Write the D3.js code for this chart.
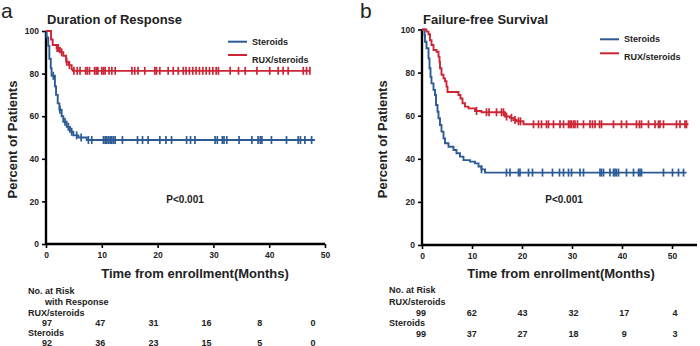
<!DOCTYPE html>
<html>
<head>
<meta charset="utf-8">
<script src="https://cdn.jsdelivr.net/npm/d3@7"></script>
<style>
body { margin: 0; background: #fff; }
svg text { font-family: "Liberation Sans", Arial, sans-serif; font-weight: bold; fill: #222; }
</style>
</head>
<body>
<div class="interactive-wrapper"></div>
<script>
//=====================DATA=====================

// panel a : duration of response
const aRuxTime = [0, 0.9, 1.2, 1.9, 2.5, 3.1, 3.6, 4.0, 4.6, 4.8]
const aRuxSurv = [100, 96, 93.4, 92, 90, 88.4, 85.6, 84, 82, 81.3]
const aRuxCens = [2.0, 2.2, 2.8, 3.7, 4.2, 5.0, 5.6, 6.1, 7.1, 7.4, 7.8, 8.7, 9.0, 9.3, 10.0, 10.3, 10.6, 11.3, 11.8, 12.4,
	15.4, 15.9, 16.5, 17.7, 19.5, 19.8, 20.4, 21.9, 22.8, 23.7, 24.6, 25.1, 25.7, 26.3, 26.9, 27.5, 28.1, 28.7, 29.3, 29.9,
	30.5, 30.9, 33.0, 34.5, 35.7, 37.8, 40.1, 41.6, 42.5, 43.4, 46.1, 46.7, 47.3]
const aRuxEnd = 47.3

const aSteTime = [0, 0.1, 0.4, 0.6, 0.85, 1.0, 1.6, 1.8, 2.1, 2.4, 2.8, 3.1, 3.7, 4.3, 4.9, 5.8, 7.3]
const aSteSurv = [100, 97, 93, 87, 82.5, 79, 74, 70, 66, 63, 60, 57.4, 55, 52.7, 51, 50, 48.8]
const aSteCens = [1.3, 2.5, 3.4, 4.0, 4.6, 5.5, 6.3, 7.6, 8.2, 10.3, 10.6, 10.9, 11.2, 11.5, 11.8, 12.1, 12.4, 13.7,
	16.4, 17.3, 18.3, 20.4, 21.5, 22.5, 25.2, 25.9, 26.7, 30.3, 30.7, 31.6, 31.9, 32.4, 34.6, 36.9, 38.0, 38.4, 38.7,
	40.4, 43.1, 45.2, 45.6, 46.4, 47.6]
const aSteEnd = 48.2

const aRiskTimes = [0, 10, 20, 30, 40, 50]
const aRiskRux = [97, 47, 31, 16, 8, 0]
const aRiskSte = [92, 36, 23, 15, 5, 0]

// panel b : failure-free survival
const bRuxTime = [0, 0.9, 1.3, 1.6, 1.9, 2.3, 2.9, 3.3, 3.5, 3.6, 3.9, 4.3, 4.6, 4.9, 5.1, 7.3, 7.7, 8.1, 8.6, 9.3, 10.6, 11.9, 16.6, 17.6, 18.3, 18.9, 20.3]
const bRuxSurv = [100, 99, 97.8, 95, 92.8, 90.5, 89.7, 87.4, 85, 82, 79, 77.3, 76, 73.5, 71, 69.6, 68, 65.8, 64.2, 63.4, 62.2, 61.6, 59.6, 59, 58, 57.4, 56]
const bRuxCens = [10.9, 12.9, 13.4, 14.9, 15.9, 16.3, 16.9, 17.9, 18.6, 19.3, 19.7, 22.3, 23.3, 23.9, 24.9, 25.3, 26.3,
	27.6, 28.3, 29.3, 29.6, 29.9, 30.3, 30.6, 31.1, 32.3, 33.6, 34.1, 34.6, 35.5, 35.9, 38.3, 39.9, 40.9, 42.9, 43.5,
	43.9, 45.3, 46.6, 47.3, 47.6, 48.3, 50.9, 51.6, 52.6, 52.9]
const bRuxEnd = 53.3

const bSteTime = [0, 0.5, 0.6, 0.9, 1.3, 1.5, 1.7, 1.9, 2.3, 2.6, 2.8, 3.1, 3.3, 3.6, 3.9, 4.3, 4.6, 5.3, 6.3, 6.9, 7.6, 8.3, 9.6, 10.6, 11.3, 11.9, 12.6]
const bSteSurv = [100, 97.4, 94.3, 91.3, 86.6, 82, 78, 75, 72, 69.6, 65, 61.8, 58.8, 55.7, 52.6, 49.5, 47.2, 45.6, 44.1, 42.6, 41, 39.4, 38.7, 37.9, 36.4, 35.1, 33.6]
const bSteCens = [11.9, 16.9, 17.6, 19.3, 19.6, 21.3, 22.1, 24.1, 26.1, 27.5, 28.3, 29.3, 29.9, 31.6, 32.3, 35.6, 35.9,
	36.3, 37.6, 38.3, 38.6, 38.9, 39.3, 40.9, 42.3, 43.3, 43.6, 43.9, 48.3, 50.1, 51.3, 52.3]
const bSteEnd = 52.9

const bRiskTimes = [0, 10, 20, 30, 40, 50]
const bRiskRux = [99, 62, 43, 32, 17, 4]
const bRiskSte = [99, 37, 27, 18, 9, 3]

const xTicks = [0, 10, 20, 30, 40, 50]
const yTicks = [0, 20, 40, 60, 80, 100]

//=====================STRUCTURE=====================

const width = 700
const height = 346
const blue = '#2c5a95'
const red = '#cc2636'

const svg = d3.select('.interactive-wrapper')
.append('svg')
.attr('width', width)
.attr('height', height)

const makeCurve = (time, surv, cens, end) => {
	let pts = time.map((t, i) => [t, surv[i]])
	pts.push([end, surv[surv.length - 1]])
	let survAt = t => {
		let s = surv[0]
		time.forEach((tt, i) => { if (tt <= t) s = surv[i] })
		return s
	}
	return {pts: pts, cens: cens.map(c => [c, survAt(c)])}
}

const drawPanel = (p) => {

	const x = d3.scaleLinear().domain(p.xDomain).range(p.xRange)
	const y = d3.scaleLinear().domain([0, 100]).range(p.yRange)
	const g = svg.append('g')

	// y axis
	const yAxis = g.append('g')
	.attr('transform', `translate(${p.xRange[0]},0)`)
	.call(d3.axisLeft(y).tickValues(yTicks).tickSize(4).tickPadding(3))
	yAxis.select('.domain').attr('stroke-width', 2.4).attr('d', `M0,${y(0)}V${y(100)}`)
	yAxis.selectAll('.tick line').attr('stroke-width', 1.6)
	yAxis.selectAll('.tick text').attr('font-size', 8.5).attr('font-family', 'Liberation Sans').attr('font-weight', 'bold')

	// x axis
	const xAxis = g.append('g')
	.attr('transform', `translate(0,${p.yRange[0]})`)
	.call(d3.axisBottom(x).tickValues(xTicks).tickSize(4).tickPadding(4))
	xAxis.select('.domain').attr('stroke-width', 2.4).attr('d', `M${p.xRange[0]},0H${p.xRange[1]}`)
	xAxis.selectAll('.tick line').attr('stroke-width', 1.6)
	xAxis.selectAll('.tick text').attr('font-size', 8.5).attr('font-family', 'Liberation Sans').attr('font-weight', 'bold')

	const line = d3.line()
	.x(d => x(d[0]))
	.y(d => y(d[1]))
	.curve(d3.curveStepAfter)

	p.curves.forEach(c => {
		g.append('path')
		.attr('d', line(c.curve.pts))
		.attr('fill', 'none')
		.attr('stroke', c.color)
		.attr('stroke-width', 1.9)

		g.selectAll(null)
		.data(c.curve.cens)
		.enter()
		.append('line')
		.attr('x1', d => x(d[0]))
		.attr('x2', d => x(d[0]))
		.attr('y1', d => y(d[1]) - 4)
		.attr('y2', d => y(d[1]) + 4)
		.attr('stroke', c.color)
		.attr('stroke-width', 1.7)
	})

	// legend
	p.curves.forEach((c, i) => {
		g.append('line')
		.attr('x1', p.legend.x)
		.attr('x2', p.legend.x + 19)
		.attr('y1', p.legend.lineY[i])
		.attr('y2', p.legend.lineY[i])
		.attr('stroke', c.color)
		.attr('stroke-width', 2)

		g.append('text')
		.attr('x', p.legend.x + 24)
		.attr('y', p.legend.textY[i])
		.attr('font-size', 9)
		.text(c.name)
	})

	// texts
	g.append('text').attr('x', p.letter[0]).attr('y', p.letter[1])
	.attr('font-size', 21).style('font-weight', 'normal').text(p.letterText)

	g.append('text').attr('x', p.title[0]).attr('y', p.title[1])
	.attr('font-size', 13).text(p.titleText)

	g.append('text')
	.attr('transform', `translate(${p.yTitleX},${(y(0) + y(100)) / 2 + 2}) rotate(-90)`)
	.attr('text-anchor', 'middle')
	.attr('font-size', 13)
	.text('Percent of Patients')

	g.append('text')
	.attr('x', p.xTitleX)
	.attr('y', 278)
	.attr('text-anchor', 'middle')
	.attr('font-size', 13)
	.text('Time from enrollment(Months)')

	g.append('text')
	.attr('x', p.pX)
	.attr('y', 203)
	.attr('text-anchor', 'middle')
	.attr('font-size', 10)
	.text('P<0.001')

	// number at risk
	const xr = d3.scaleLinear().domain([0, 50]).range(p.riskRange)

	p.riskLabels.forEach(l => {
		g.append('text').attr('x', l[0]).attr('y', l[1]).attr('font-size', 9).text(l[2])
	})

	p.riskRows.forEach(r => {
		g.selectAll(null)
		.data(r.values)
		.enter()
		.append('text')
		.attr('x', (d, i) => xr(p.riskTimes[i]))
		.attr('y', r.y)
		.attr('text-anchor', 'middle')
		.attr('font-size', 9)
		.text(d => d)
	})
}

drawPanel({
	xDomain: [0, 50], xRange: [46, 325], yRange: [244, 31],
	curves: [
		{name: 'Steroids', color: blue, curve: makeCurve(aSteTime, aSteSurv, aSteCens, aSteEnd)},
		{name: 'RUX/steroids', color: red, curve: makeCurve(aRuxTime, aRuxSurv, aRuxCens, aRuxEnd)}
	],
	legend: {x: 228, lineY: [41.7, 55], textY: [45, 63]},
	letter: [1, 18], letterText: 'a',
	title: [47, 24], titleText: 'Duration of Response',
	yTitleX: 17, xTitleX: 195, pX: 185,
	riskRange: [47, 313], riskTimes: aRiskTimes,
	riskLabels: [[28, 294, 'No. at Risk'], [45, 305, 'with Response'], [28, 316, 'RUX/steroids'], [28, 336, 'Steroids']],
	riskRows: [{y: 326, values: aRiskRux}, {y: 345.5, values: aRiskSte}]
})

drawPanel({
	xDomain: [0, 55], xRange: [422, 697], yRange: [245, 29.5],
	curves: [
		{name: 'Steroids', color: blue, curve: makeCurve(bSteTime, bSteSurv, bSteCens, bSteEnd)},
		{name: 'RUX/steroids', color: red, curve: makeCurve(bRuxTime, bRuxSurv, bRuxCens, bRuxEnd)}
	],
	legend: {x: 600, lineY: [39.3, 53.3], textY: [42, 60]},
	letter: [360, 18], letterText: 'b',
	title: [423, 24], titleText: 'Failure-free Survival',
	yTitleX: 387, xTitleX: 561, pX: 564,
	riskRange: [421, 675], riskTimes: bRiskTimes,
	riskLabels: [[389, 293, 'No. at Risk'], [389, 305, 'RUX/steroids'], [389, 326, 'Steroids']],
	riskRows: [{y: 315.5, values: bRiskRux}, {y: 336.5, values: bRiskSte}]
})
</script>
</body>
</html>
